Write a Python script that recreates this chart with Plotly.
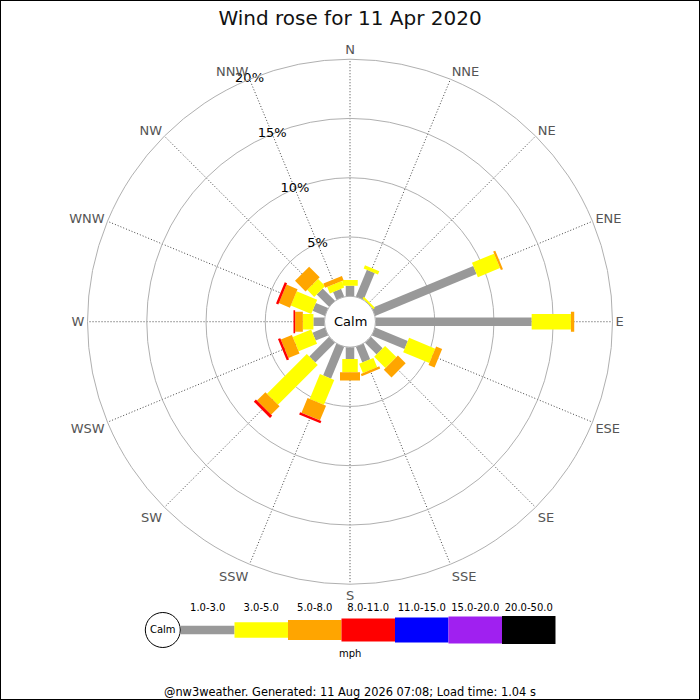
import plotly.graph_objects as go

# compass directions (degrees clockwise from north)
directions = ["N", "NNE", "NE", "ENE", "E", "ESE", "SE", "SSE",
              "S", "SSW", "SW", "WSW", "W", "WNW", "NW", "NNW"]
angles = [i * 22.5 for i in range(16)]

speed_classes = ["1.0-3.0", "3.0-5.0", "5.0-8.0", "8.0-11.0",
                 "11.0-15.0", "15.0-20.0", "20.0-50.0"]
class_colors = ["#999999", "#ffff00", "#ffa500", "#ff0000",
                "#0000ff", "#a020f0", "#000000"]
class_widths = [8.5, 15.5, 20, 23, 25, 27, 28]

# percentage of observations per direction, per speed class
pct_1_3 = [0.88, 2.44, 0.0, 9.26, 13.18, 2.98, 1.39, 1.43,
           0.99, 2.90, 2.35, 1.13, 0.94, 1.12, 1.47, 0.71]
pct_3_5 = [0.50, 0.29, 0.17, 2.02, 3.31, 2.39, 1.34, 0.84,
           1.13, 2.27, 4.75, 1.68, 0.89, 1.87, 0.84, 0.59]
pct_5_8 = [0.0, 0.0, 0.0, 0.19, 0.28, 0.55, 0.92, 0.21,
           0.70, 1.34, 1.01, 1.01, 0.65, 1.01, 1.26, 0.38]
pct_8_11 = [0.0, 0.0, 0.0, 0.0, 0.0, 0.0, 0.0, 0.0,
            0.0, 0.21, 0.25, 0.21, 0.14, 0.21, 0.0, 0.0]
pct_11_15 = [0.0] * 16
pct_15_20 = [0.0] * 16
pct_20_50 = [0.0] * 16

radial_ticks = [5, 10, 15, 20]
radial_labels = ["5%", "10%", "15%", "20%"]

title_text = "Wind rose for 11 Apr 2020"
footer_text = "@nw3weather. Generated: 11 Aug 2026 07:08; Load time: 1.04 s"
font = "DejaVu Sans"

series = [pct_1_3, pct_3_5, pct_5_8, pct_8_11, pct_11_15, pct_15_20, pct_20_50]

fig = go.Figure()

# stacked rectangular bars drawn as thick radial lines
base = [0.0] * 16
for values, color, width in zip(series, class_colors, class_widths):
    r, theta = [], []
    for i, v in enumerate(values):
        if v > 0:
            r += [base[i], base[i] + v, None]
            theta += [angles[i], angles[i], None]
        base[i] += v
    if r:
        fig.add_trace(go.Scatterpolar(
            r=r, theta=theta, mode="lines", connectgaps=False,
            line=dict(color=color, width=width), hoverinfo="skip",
            showlegend=False))

# radial percentage labels along the NNW spoke
fig.add_trace(go.Scatterpolar(
    r=radial_ticks, theta=[337.5] * len(radial_ticks), mode="text",
    text=radial_labels, textfont=dict(family=font, size=13, color="black"),
    showlegend=False, hoverinfo="skip"))

# legend strip below the rose
for i, (name, color, width) in enumerate(zip(speed_classes, class_colors, class_widths)):
    fig.add_trace(go.Scatter(
        x=[i, i + 1], y=[0, 0], mode="lines", xaxis="x", yaxis="y",
        line=dict(color=color, width=width), showlegend=False, hoverinfo="skip"))
fig.add_trace(go.Scatter(
    x=[i + 0.5 for i in range(len(speed_classes))], y=[0.72] * len(speed_classes),
    mode="text", text=speed_classes, xaxis="x", yaxis="y",
    textfont=dict(family=font, size=10, color="black"),
    showlegend=False, hoverinfo="skip"))
fig.add_trace(go.Scatter(
    x=[-0.34], y=[0], mode="markers+text", text=["Calm"], xaxis="x", yaxis="y",
    marker=dict(symbol="circle", size=35, color="white",
                line=dict(color="black", width=1)),
    textfont=dict(family=font, size=10, color="black"),
    showlegend=False, hoverinfo="skip"))

fig.update_layout(
    width=700, height=700,
    margin=dict(l=0, r=0, t=0, b=0),
    paper_bgcolor="white", plot_bgcolor="white",
    font=dict(family=font),
    title=dict(text=title_text, x=0.5, xanchor="center", y=0.975, yanchor="middle",
               font=dict(family=font, size=20, color="#111111")),
    polar=dict(
        domain=dict(x=[0.125, 0.875], y=[0.1654, 0.9154]),
        bgcolor="white",
        hole=0.097,
        radialaxis=dict(
            range=[0, 20], tickvals=[0] + radial_ticks, showticklabels=False,
            ticks="", showline=False, gridcolor="#b0b0b0", gridwidth=1),
        angularaxis=dict(
            rotation=90, direction="clockwise",
            tickmode="array", tickvals=angles, ticktext=directions,
            tickfont=dict(family=font, size=13, color="#555555"),
            ticks="", showline=True, linecolor="#b0b0b0", linewidth=1,
            gridcolor="#444444", griddash="1px,2px", gridwidth=1),
    ),
    xaxis=dict(domain=[100 / 700, 600 / 700], range=[-1.514, 7.832],
               visible=False, fixedrange=True),
    yaxis=dict(domain=[40 / 700, 100 / 700], range=[-1, 1],
               visible=False, fixedrange=True),
    annotations=[
        dict(text="Calm", x=0.5, y=0.5404, xref="paper", yref="paper",
             yanchor="middle", showarrow=False,
             font=dict(family=font, size=13, color="black")),
        dict(text="mph", x=0.5, y=1 - 653 / 700, xref="paper", yref="paper",
             yanchor="middle", showarrow=False,
             font=dict(family=font, size=10, color="black")),
        dict(text=footer_text, x=0.5, y=1 - 692 / 700, xref="paper", yref="paper",
             yanchor="middle", showarrow=False,
             font=dict(family=font, size=11.4, color="black")),
    ],
    shapes=[dict(type="rect", xref="paper", yref="paper", x0=0, y0=0, x1=1, y1=1,
                 line=dict(color="black", width=2))],
)

fig.write_html("out.html", config={"displayModeBar": False},
               post_script="document.body.style.margin='0';document.body.style.padding='0';")
